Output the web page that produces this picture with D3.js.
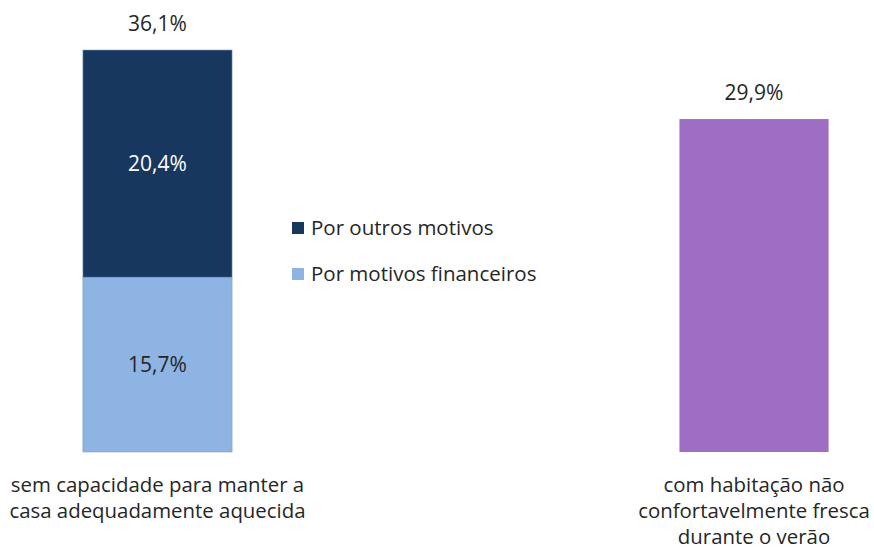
<!DOCTYPE html>
<html>
<head>
<meta charset="utf-8">
<script src="https://cdn.jsdelivr.net/npm/d3@7"></script>
<style>
  body { margin: 0; background: #fff; }
  text { font-family: "Open Sans", "Noto Sans", sans-serif; fill: #262626; }
</style>
</head>
<body>
<div id="chart"></div>
<script>
const categories = ['heating', 'cooling'];
const categoryLabels = [
  ['sem capacidade para manter a', 'casa adequadamente aquecida'],
  ['com habitação não', 'confortavelmente fresca', 'durante o verão'],
];
const financeiros = [15.7, 0];
const outros = [20.4, 0];
const verao = [0, 29.9];
const totals = [36.1, 29.9];
const legendLabels = ['Por outros motivos', 'Por motivos financeiros'];

const width = 874;
const height = 549;
const colors = { outros: '#17375E', financeiros: '#8EB4E3', verao: '#9E6DC4' };

const fmt = v => d3.format('.1f')(v).replace('.', ',') + '%';

const svg = d3.select('#chart').append('svg')
  .attr('width', width)
  .attr('height', height);

const x = d3.scaleBand()
  .domain(categories)
  .range([0, 911.5])
  .paddingInner(0.75)
  .paddingOuter(0.139);

const y = d3.scaleLinear()
  .domain([0, 36.1])
  .range([452, 50]);

const bw = x.bandwidth();

// stacked segments
const segs = [];
categories.forEach((c, i) => {
  if (financeiros[i]) segs.push({ c, y0: 0, y1: financeiros[i], fill: colors.financeiros, v: financeiros[i], tc: '#262626' });
  if (outros[i]) segs.push({ c, y0: financeiros[i], y1: financeiros[i] + outros[i], fill: colors.outros, v: outros[i], tc: '#ffffff' });
  if (verao[i]) segs.push({ c, y0: 0, y1: verao[i], fill: colors.verao, v: null });
});

svg.selectAll('rect.seg').data(segs).enter()
  .append('rect')
  .attr('class', 'seg')
  .attr('x', d => x(d.c))
  .attr('y', d => y(d.y1))
  .attr('width', bw)
  .attr('height', d => y(d.y0) - y(d.y1))
  .attr('fill', d => d.fill)
  .attr('stroke', d => d.v === null ? 'none' : '#7f9bbf')
  .attr('stroke-width', 0.6);

svg.selectAll('text.seg').data(segs.filter(d => d.v !== null)).enter()
  .append('text')
  .attr('class', 'seg')
  .attr('x', d => x(d.c) + bw / 2)
  .attr('y', d => (y(d.y0) + y(d.y1)) / 2)
  .attr('dy', '0.35em')
  .attr('text-anchor', 'middle')
  .style('font-size', '21px')
  .style('fill', d => d.tc)
  .text(d => fmt(d.v));

svg.selectAll('text.total').data(categories).enter()
  .append('text')
  .attr('class', 'total')
  .attr('x', d => x(d) + bw / 2)
  .attr('y', (d, i) => y(totals[i]) - 26)
  .attr('dy', '0.35em')
  .attr('text-anchor', 'middle')
  .style('font-size', '21px')
  .text((d, i) => fmt(totals[i]));

// category labels
const cl = svg.selectAll('text.cat').data(categories).enter()
  .append('text')
  .attr('class', 'cat')
  .attr('text-anchor', 'middle')
  .style('font-size', '20.4px');
cl.each(function (d, i) {
  d3.select(this).selectAll('tspan').data(categoryLabels[i]).enter()
    .append('tspan')
    .attr('x', x(d) + bw / 2)
    .attr('y', (t, j) => 485 + j * 26)
    .attr('dy', '0.35em')
    .text(t => t);
});

// legend
const legend = svg.append('g').attr('transform', 'translate(292,228)');
const li = legend.selectAll('g').data(legendLabels).enter()
  .append('g')
  .attr('transform', (d, i) => `translate(0,${i * 46})`);
li.append('rect')
  .attr('x', 0).attr('y', -6)
  .attr('width', 12).attr('height', 12)
  .attr('fill', (d, i) => i === 0 ? colors.outros : colors.financeiros);
li.append('text')
  .attr('x', 19)
  .attr('dy', '0.35em')
  .style('font-size', '20.5px')
  .text(d => d);
</script>
</body>
</html>
